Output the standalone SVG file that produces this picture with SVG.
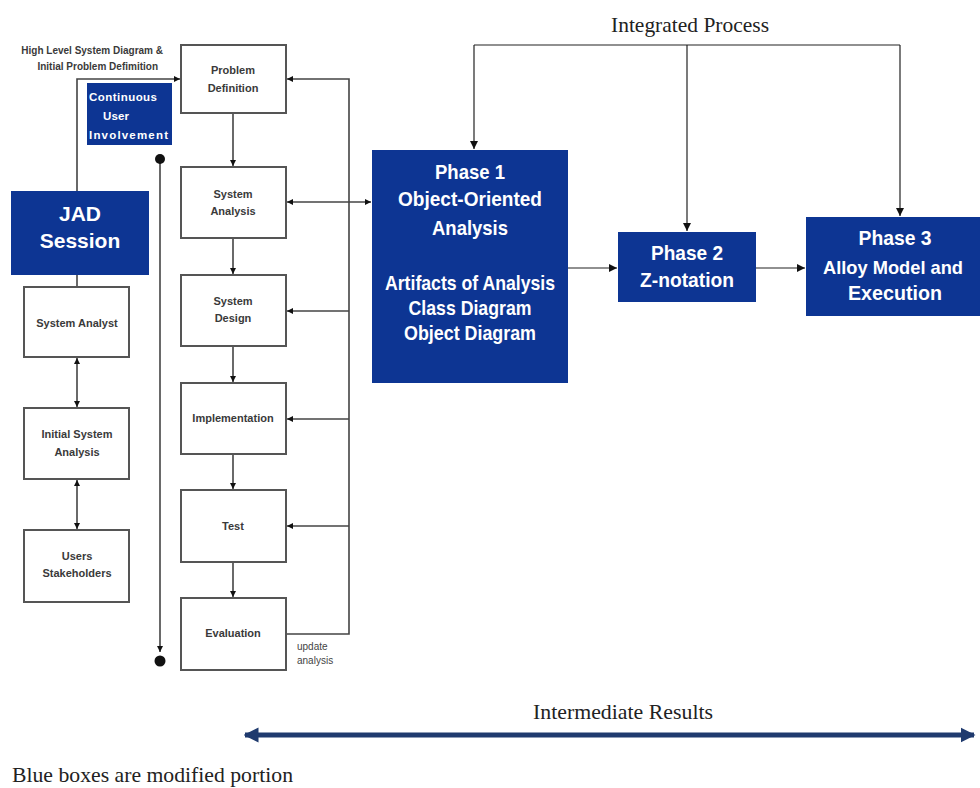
<svg xmlns="http://www.w3.org/2000/svg" width="980" height="788" viewBox="0 0 980 788">
<style>
.wbox{fill:#fff;stroke:#555;stroke-width:2}
.bbox{fill:#0d3593;stroke:none}
.wt{font-family:"Liberation Sans",Arial,sans-serif;font-weight:bold;font-size:11px;fill:#3a3a3a;text-anchor:middle}
.bt{font-family:"Liberation Sans",Arial,sans-serif;font-weight:bold;font-size:21px;fill:#fff;text-anchor:middle}
.ct{font-family:"Liberation Sans",Arial,sans-serif;font-weight:bold;font-size:11.5px;fill:#fff}
.line{fill:none;stroke:#444;stroke-width:1.6}
.tline{fill:none;stroke:#222;stroke-width:1.2}
.serif{font-family:"Liberation Serif","Times New Roman",serif;font-size:21px;fill:#222}
</style>
<defs>
<marker id="ah" viewBox="0 0 10 10" refX="10" refY="5" markerWidth="6" markerHeight="6" orient="auto-start-reverse" markerUnits="userSpaceOnUse">
<path d="M0,0 L10,5 L0,10 z" fill="#111"/>
</marker>
<marker id="ahs" viewBox="0 0 10 10" refX="10" refY="5" markerWidth="8" markerHeight="8" orient="auto-start-reverse" markerUnits="userSpaceOnUse">
<path d="M0,0 L10,5 L0,10 z" fill="#111"/>
</marker>
<marker id="big" viewBox="0 0 10 10" refX="9" refY="5" markerWidth="3" markerHeight="3.4" orient="auto-start-reverse">
<path d="M0,0 L10,5 L0,10 z" fill="#1f3a6e"/>
</marker>
</defs>

<g id="connectors">
<path class="line" d="M77,191 V79 H180" marker-end="url(#ah)"/>
<path class="line" d="M77,275 V287"/>
<path class="line" d="M77,358 V407" marker-start="url(#ah)" marker-end="url(#ah)"/>
<path class="line" d="M77,480 V529" marker-start="url(#ah)" marker-end="url(#ah)"/>
<path class="line" d="M160,159 V652" marker-end="url(#ah)"/>
<circle cx="160" cy="159" r="5" fill="#111"/>
<circle cx="160" cy="661" r="5.5" fill="#111"/>
<path class="line" d="M233,113 V166" marker-end="url(#ah)"/>
<path class="line" d="M233,238 V274" marker-end="url(#ah)"/>
<path class="line" d="M233,346 V382" marker-end="url(#ah)"/>
<path class="line" d="M233,454 V489" marker-end="url(#ah)"/>
<path class="line" d="M233,562 V597" marker-end="url(#ah)"/>
<path class="line" d="M286,634 H349 V79 H287" marker-end="url(#ah)"/>
<path class="line" d="M349,311 H287" marker-end="url(#ah)"/>
<path class="line" d="M349,419 H287" marker-end="url(#ah)"/>
<path class="line" d="M349,526 H287" marker-end="url(#ah)"/>
<path class="line" d="M287,202 H371" marker-start="url(#ah)" marker-end="url(#ah)"/>
<path class="tline" d="M474,45 H900"/>
<path class="tline" d="M474,45 V149" marker-end="url(#ahs)"/>
<path class="tline" d="M687,45 V231" marker-end="url(#ahs)"/>
<path class="tline" d="M900,45 V216" marker-end="url(#ahs)"/>
<path class="tline" d="M568,268 H617" marker-end="url(#ahs)"/>
<path class="tline" d="M756,268 H805" marker-end="url(#ahs)"/>
<path d="M245,735 H974" stroke="#1f3a6e" stroke-width="5" fill="none" marker-start="url(#big)" marker-end="url(#big)"/>
</g>

<text class="wt" x="163" y="54" style="text-anchor:end;font-size:10px">High Level System Diagram &amp;</text>
<text class="wt" x="158" y="70" style="text-anchor:end;font-size:10px">Initial Problem Defimition</text>

<g id="cui">
<rect class="bbox" x="87" y="83" width="85" height="62"/>
<text class="ct" x="89" y="101" textLength="68" lengthAdjust="spacing">Continuous</text>
<text class="ct" x="103" y="120" textLength="26" lengthAdjust="spacing">User</text>
<text class="ct" x="89" y="139" textLength="79" lengthAdjust="spacing">Involvement</text>
</g>

<g id="jad">
<rect class="bbox" x="11" y="191" width="138" height="84"/>
<text class="bt" x="80" y="221">JAD</text>
<text class="bt" x="80" y="248">Session</text>
</g>

<g id="sysanalyst"><rect class="wbox" x="24" y="287" width="105" height="70"/><text class="wt" x="77" y="327">System Analyst</text></g>
<g id="isa"><rect class="wbox" x="24" y="408" width="105" height="71"/><text class="wt" x="77" y="438">Initial System</text><text class="wt" x="77" y="456">Analysis</text></g>
<g id="users"><rect class="wbox" x="24" y="530" width="105" height="72"/><text class="wt" x="77" y="560">Users</text><text class="wt" x="77" y="577">Stakeholders</text></g>

<g id="probdef"><rect class="wbox" x="181" y="45" width="105" height="68"/><text class="wt" x="233" y="74">Problem</text><text class="wt" x="233" y="92">Definition</text></g>
<g id="sysanalysis"><rect class="wbox" x="181" y="167" width="105" height="71"/><text class="wt" x="233" y="198">System</text><text class="wt" x="233" y="215">Analysis</text></g>
<g id="sysdesign"><rect class="wbox" x="181" y="275" width="105" height="71"/><text class="wt" x="233" y="305">System</text><text class="wt" x="233" y="322">Design</text></g>
<g id="impl"><rect class="wbox" x="181" y="383" width="105" height="71"/><text class="wt" x="233" y="422">Implementation</text></g>
<g id="test"><rect class="wbox" x="181" y="490" width="105" height="72"/><text class="wt" x="233" y="530">Test</text></g>
<g id="eval"><rect class="wbox" x="181" y="598" width="105" height="72"/><text class="wt" x="233" y="637">Evaluation</text></g>

<text x="297" y="650" style="font-family:'Liberation Sans',sans-serif;font-size:10px;fill:#444">update</text>
<text x="297" y="664" style="font-family:'Liberation Sans',sans-serif;font-size:10px;fill:#444">analysis</text>

<g id="phase1">
<rect class="bbox" x="372" y="150" width="196" height="233"/>
<text class="bt" x="470" y="179" textLength="70" lengthAdjust="spacingAndGlyphs">Phase 1</text>
<text class="bt" x="470" y="206" textLength="144" lengthAdjust="spacingAndGlyphs">Object-Oriented</text>
<text class="bt" x="470" y="235" textLength="76" lengthAdjust="spacingAndGlyphs">Analysis</text>
<text class="bt" x="470" y="290" textLength="170" lengthAdjust="spacingAndGlyphs">Artifacts of Analysis</text>
<text class="bt" x="470" y="315" textLength="123" lengthAdjust="spacingAndGlyphs">Class Diagram</text>
<text class="bt" x="470" y="340" textLength="132" lengthAdjust="spacingAndGlyphs">Object Diagram</text>
</g>
<g id="phase2">
<rect class="bbox" x="618" y="232" width="138" height="70"/>
<text class="bt" x="687" y="260" textLength="72" lengthAdjust="spacingAndGlyphs">Phase 2</text>
<text class="bt" x="687" y="287" textLength="94" lengthAdjust="spacingAndGlyphs">Z-notation</text>
</g>
<g id="phase3">
<rect class="bbox" x="806" y="217" width="174" height="99"/>
<text class="bt" x="895" y="245" textLength="73" lengthAdjust="spacingAndGlyphs">Phase 3</text>
<text class="bt" x="893" y="274" style="font-size:19px" textLength="140" lengthAdjust="spacingAndGlyphs">Alloy Model and</text>
<text class="bt" x="895" y="300" textLength="94" lengthAdjust="spacingAndGlyphs">Execution</text>
</g>

<text class="serif" x="690" y="32" text-anchor="middle" textLength="158" lengthAdjust="spacingAndGlyphs">Integrated Process</text>
<text class="serif" x="623" y="719" text-anchor="middle" textLength="180" lengthAdjust="spacingAndGlyphs">Intermediate Results</text>
<text class="serif" x="12" y="782" textLength="281" lengthAdjust="spacingAndGlyphs">Blue boxes are modified portion</text>
</svg>
